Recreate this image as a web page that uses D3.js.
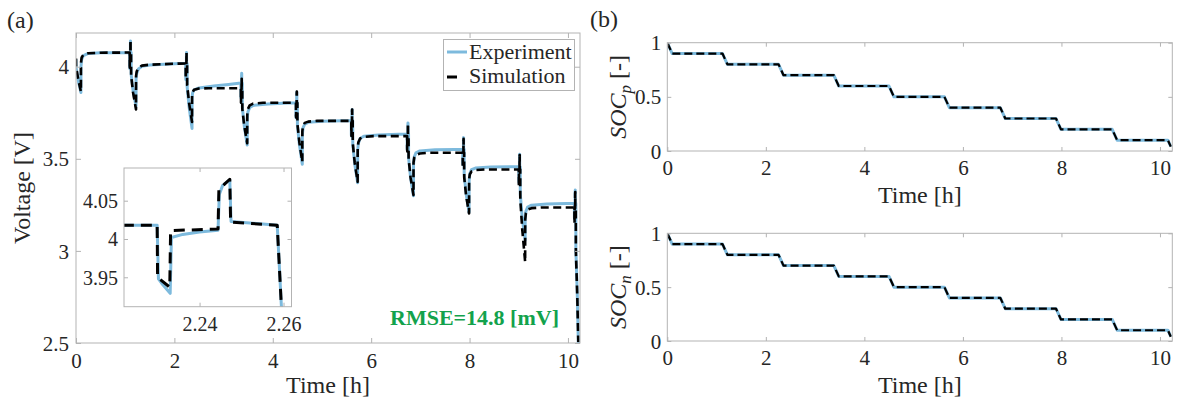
<!DOCTYPE html>
<html><head><meta charset="utf-8">
<script src="https://cdn.jsdelivr.net/npm/d3@7"></script>
<style>
body{margin:0;background:#fff}
svg{display:block}
text{font-family:"Liberation Serif","Times New Roman",serif;fill:#262626}
</style>
</head><body>
<svg id="c" width="1179" height="404"></svg>
<script>
// ---------------- DATA ----------------
// Simulation voltage [time h, voltage V]
const simVoltage = [
 [0.000,4.045],[0.002,4.000],[0.050,3.925],[0.100,3.865],[0.101,4.020],[0.115,4.050],[0.150,4.065],[0.250,4.073],[0.500,4.076],
 [1.0913,4.077],[1.0914,4.005],[1.0945,3.995],[1.0947,4.070],[1.1058,4.072],[1.1060,4.135],[1.1088,4.145],[1.1090,4.080],[1.1199,4.077],[1.1210,3.950],[1.160,3.860],[1.220,3.768],[1.221,3.950],[1.235,3.975],[1.270,3.995],[1.340,4.006],[1.500,4.011],[1.800,4.014],[2.100,4.017],
 [2.2299,4.018],[2.2300,3.950],[2.2329,3.937],[2.2331,4.011],[2.2444,4.013],[2.2446,4.064],[2.2460,4.072],[2.2472,4.078],[2.2474,4.022],[2.2585,4.018],[2.2596,3.900],[2.300,3.800],[2.3586,3.700],[2.3596,3.845],[2.370,3.862],[2.400,3.875],[2.480,3.881],[2.700,3.883],
 [3.3513,3.883],[3.3514,3.815],[3.3545,3.805],[3.3547,3.876],[3.3658,3.878],[3.3660,3.925],[3.3688,3.935],[3.3690,3.886],[3.3799,3.883],[3.3810,3.770],[3.420,3.680],[3.480,3.584],[3.481,3.740],[3.495,3.770],[3.530,3.790],[3.600,3.800],[3.800,3.804],
 [4.4713,3.804],[4.4714,3.735],[4.4745,3.725],[4.4747,3.797],[4.4858,3.799],[4.4860,3.855],[4.4888,3.865],[4.4890,3.807],[4.4999,3.804],[4.5010,3.690],[4.540,3.590],[4.600,3.484],[4.601,3.650],[4.615,3.680],[4.650,3.695],[4.720,3.702],[4.900,3.706],
 [5.5963,3.706],[5.5964,3.635],[5.5995,3.625],[5.5997,3.699],[5.6108,3.701],[5.6110,3.758],[5.6138,3.768],[5.6140,3.709],[5.6249,3.706],[5.6260,3.585],[5.665,3.480],[5.725,3.375],[5.726,3.560],[5.740,3.590],[5.775,3.610],[5.850,3.619],[6.050,3.623],
 [6.7313,3.623],[6.7314,3.550],[6.7345,3.540],[6.7347,3.616],[6.7458,3.618],[6.7460,3.682],[6.7488,3.692],[6.7490,3.626],[6.7599,3.623],[6.7610,3.500],[6.800,3.400],[6.860,3.303],[6.861,3.480],[6.875,3.505],[6.910,3.521],[6.990,3.529],[7.200,3.533],
 [7.8613,3.533],[7.8614,3.460],[7.8645,3.450],[7.8647,3.526],[7.8758,3.528],[7.8760,3.598],[7.8788,3.608],[7.8790,3.536],[7.8899,3.533],[7.8910,3.400],[7.930,3.300],[7.990,3.203],[7.991,3.390],[8.005,3.415],[8.040,3.431],[8.120,3.439],[8.330,3.442],
 [9.0013,3.442],[9.0014,3.365],[9.0045,3.355],[9.0047,3.435],[9.0158,3.437],[9.0160,3.510],[9.0188,3.520],[9.0190,3.445],[9.0299,3.442],[9.0310,3.280],[9.070,3.120],[9.130,2.940],[9.131,3.170],[9.145,3.205],[9.180,3.224],[9.260,3.232],[9.470,3.236],
 [10.1313,3.236],[10.1314,3.160],[10.1345,3.150],[10.1347,3.229],[10.1458,3.231],[10.1460,3.310],[10.1488,3.320],[10.1490,3.239],[10.1599,3.236],[10.1610,3.000],[10.190,2.750],[10.210,2.505]
];
// Experiment voltage [time h, voltage V]
const expVoltage = [
 [0.000,4.040],[0.002,3.995],[0.050,3.920],[0.100,3.860],[0.101,4.000],[0.115,4.040],[0.150,4.060],[0.250,4.072],[0.500,4.076],
 [1.0913,4.077],[1.0916,4.002],[1.0930,3.995],[1.0945,3.990],[1.0949,4.066],[1.1058,4.071],[1.1061,4.125],[1.1070,4.135],[1.1088,4.140],[1.1091,4.082],[1.1199,4.077],[1.1210,3.960],[1.160,3.870],[1.220,3.785],[1.221,3.935],[1.235,3.965],[1.270,3.988],[1.340,4.002],[1.500,4.009],[1.800,4.013],[2.100,4.017],
 [2.2299,4.018],[2.2302,3.948],[2.2310,3.942],[2.2330,3.929],[2.2333,4.002],[2.2360,4.006],[2.2400,4.009],[2.2444,4.0115],[2.2447,4.058],[2.2455,4.070],[2.2472,4.077],[2.2475,4.023],[2.2585,4.018],[2.2597,3.890],[2.300,3.780],[2.3586,3.665],[2.3597,3.830],[2.370,3.858],[2.400,3.874],[2.500,3.885],[2.800,3.895],[3.100,3.904],[3.350,3.911],
 [3.3513,3.912],[3.3516,3.842],[3.3545,3.830],[3.3549,3.902],[3.3658,3.906],[3.3661,3.950],[3.3688,3.965],[3.3691,3.915],[3.3799,3.912],[3.3810,3.780],[3.420,3.680],[3.480,3.575],[3.481,3.720],[3.495,3.755],[3.530,3.778],[3.600,3.790],[3.900,3.798],[4.300,3.803],
 [4.4713,3.803],[4.4716,3.732],[4.4745,3.722],[4.4749,3.794],[4.4858,3.797],[4.4861,3.850],[4.4888,3.862],[4.4891,3.806],[4.4999,3.803],[4.5010,3.680],[4.540,3.580],[4.600,3.470],[4.601,3.630],[4.615,3.668],[4.650,3.688],[4.720,3.698],[5.000,3.704],[5.400,3.706],
 [5.5963,3.706],[5.5966,3.633],[5.5995,3.623],[5.5999,3.697],[5.6108,3.700],[5.6111,3.755],[5.6138,3.768],[5.6141,3.709],[5.6249,3.706],[5.6260,3.580],[5.665,3.475],[5.725,3.370],[5.726,3.545],[5.740,3.585],[5.775,3.610],[5.850,3.622],[6.150,3.629],[6.550,3.633],
 [6.7313,3.633],[6.7316,3.560],[6.7345,3.550],[6.7349,3.624],[6.7458,3.627],[6.7461,3.683],[6.7488,3.695],[6.7491,3.636],[6.7599,3.633],[6.7610,3.505],[6.800,3.400],[6.860,3.300],[6.861,3.470],[6.875,3.510],[6.910,3.532],[6.990,3.543],[7.300,3.549],[7.700,3.551],
 [7.8613,3.551],[7.8616,3.478],[7.8645,3.468],[7.8649,3.542],[7.8758,3.545],[7.8761,3.603],[7.8788,3.615],[7.8791,3.554],[7.8899,3.551],[7.8910,3.420],[7.930,3.310],[7.990,3.210],[7.991,3.380],[8.005,3.420],[8.040,3.441],[8.120,3.450],[8.430,3.455],[8.830,3.457],
 [9.0013,3.457],[9.0016,3.382],[9.0045,3.372],[9.0049,3.448],[9.0158,3.451],[9.0161,3.512],[9.0188,3.525],[9.0191,3.460],[9.0299,3.457],[9.0310,3.310],[9.070,3.180],[9.130,3.058],[9.131,3.170],[9.145,3.215],[9.180,3.238],[9.260,3.248],[9.570,3.254],[9.970,3.258],
 [10.1313,3.258],[10.1316,3.182],[10.1345,3.172],[10.1349,3.250],[10.1458,3.253],[10.1461,3.318],[10.1488,3.330],[10.1491,3.261],[10.1599,3.258],[10.1610,3.010],[10.190,2.760],[10.215,2.450]
];
// State of charge (positive / negative electrode)
const socTime = [0,0.1,1.12,1.22,2.2586,2.3586,3.38,3.48,4.50,4.60,5.625,5.725,6.76,6.86,7.89,7.99,9.03,9.13,10.16,10.22];
const socP    = [1,0.9,0.9,0.8,0.8,0.7,0.7,0.6,0.6,0.5,0.5,0.4,0.4,0.3,0.3,0.2,0.2,0.1,0.1,0.04];
const socN    = [1,0.9,0.9,0.8,0.8,0.7,0.7,0.6,0.6,0.5,0.5,0.4,0.4,0.3,0.3,0.2,0.2,0.1,0.1,0.04];
// Ticks
const timeTicks = [0,2,4,6,8,10];
const voltTicks = [2.5,3,3.5,4];
const insetTimeTicks = [2.24,2.26];
const insetVoltTicks = [3.95,4,4.05];
const socTicks = [0,0.5,1];
const seriesNames = ["Experiment","Simulation"];
const rmseLabel = "RMSE=14.8 [mV]";

// ---------------- STYLE ----------------
const BLUE = "#7dbadd", BOX = "#b3b3b3", GREEN = "#12a24c";
const svg = d3.select("#c");

function frame(g, x, y, xt, yt, o){
  const [x0,x1] = x.range(), [y0,y1] = y.range(); // y0 bottom
  const ts = o.tick;
  const fs = o.fs;
  const bottom = g.append("g").attr("transform",`translate(0,${y0})`)
    .call(d3.axisBottom(x).tickValues(xt).tickSizeInner(-ts).tickSizeOuter(0).tickPadding(o.padX).tickFormat(o.labels ? d=>String(d) : ""));
  const top = g.append("g").attr("transform",`translate(0,${y1})`)
    .call(d3.axisTop(x).tickValues(xt).tickSizeInner(-ts).tickSizeOuter(0).tickFormat(""));
  const left = g.append("g").attr("transform",`translate(${x0},0)`)
    .call(d3.axisLeft(y).tickValues(yt).tickSizeInner(-ts).tickSizeOuter(0).tickPadding(o.padY).tickFormat(o.labels ? d=>String(d) : ""));
  const right = g.append("g").attr("transform",`translate(${x1},0)`)
    .call(d3.axisRight(y).tickValues(yt).tickSizeInner(-ts).tickSizeOuter(0).tickFormat(""));
  [bottom,top,left,right].forEach(a=>{
    a.select(".domain").remove();
    a.selectAll("line").attr("stroke",BOX);
    a.attr("font-family",null).attr("font-size",null);
    a.selectAll("text").attr("font-size",fs).attr("fill","#262626");
  });
  left.selectAll("text").attr("dy","0.34em");
  g.append("rect").attr("x",x0).attr("y",y1).attr("width",x1-x0).attr("height",y0-y1)
    .attr("fill","none").attr("stroke",BOX).attr("stroke-width",1);
}

function lines(g, x, y, id, data, opts){
  const [x0,x1] = x.range(), [y0,y1] = y.range();
  svg.append("defs").append("clipPath").attr("id",id).append("rect")
    .attr("x",x0).attr("y",y1).attr("width",x1-x0).attr("height",y0-y1);
  const gl = g.append("g").attr("clip-path",`url(#${id})`);
  const ln = d3.line().x(d=>x(d[0])).y(d=>y(d[1]));
  gl.append("path").attr("d",ln(data.exp)).attr("fill","none").attr("stroke",BLUE)
    .attr("stroke-width",opts.bw).attr("stroke-linejoin","round");
  gl.append("path").attr("d",ln(data.sim)).attr("fill","none").attr("stroke","#000")
    .attr("stroke-width",opts.dw).attr("stroke-dasharray",opts.dash).attr("stroke-linejoin","round");
}

// ---------------- PANEL (a) ----------------
const gA = svg.append("g");
const xA = d3.scaleLinear().domain([0,10.245]).range([76,580]);
const yA = d3.scaleLinear().domain([2.5,4.183]).range([343,33]);
lines(gA, xA, yA, "clipA", {exp:expVoltage, sim:simVoltage}, {bw:3, dw:2.6, dash:"8,4.5"});
frame(gA, xA, yA, timeTicks, voltTicks, {tick:5, fs:21, padX:10, padY:7, labels:true});

// inset
const gI = svg.append("g");
const xI = d3.scaleLinear().domain([2.222,2.2619]).range([124,291.5]);
const yI = d3.scaleLinear().domain([3.9116,4.0927]).range([306.7,168]);
gI.append("rect").attr("x",124).attr("y",168).attr("width",167.5).attr("height",138.7).attr("fill","#fff");
lines(gI, xI, yI, "clipI", {exp:expVoltage, sim:simVoltage}, {bw:3, dw:3, dash:"11,7"});
frame(gI, xI, yI, insetTimeTicks, insetVoltTicks, {tick:4, fs:20, padX:10, padY:6, labels:true});

// labels panel a
gA.append("text").attr("x",7).attr("y",28).attr("font-size",24).text("(a)");
gA.append("text").attr("transform","translate(30,188) rotate(-90)").attr("text-anchor","middle")
  .attr("font-size",24).text("Voltage [V]");
gA.append("text").attr("x",328).attr("y",393).attr("text-anchor","middle").attr("font-size",24).text("Time [h]");
gA.append("text").attr("x",390).attr("y",325).attr("font-size",22).attr("font-weight","bold")
  .style("fill",GREEN).text(rmseLabel);

// legend
const lg = gA.append("g");
lg.append("rect").attr("x",443.5).attr("y",39.5).attr("width",131).attr("height",51)
  .attr("fill","#fff").attr("stroke",BOX);
lg.append("line").attr("x1",447).attr("x2",467).attr("y1",52).attr("y2",52).attr("stroke",BLUE).attr("stroke-width",3);
lg.append("line").attr("x1",447).attr("x2",457).attr("y1",77).attr("y2",77).attr("stroke","#000").attr("stroke-width",3);
lg.append("text").attr("x",469).attr("y",59).attr("font-size",22).text(seriesNames[0]);
lg.append("text").attr("x",469).attr("y",83).attr("font-size",22).text(seriesNames[1]);

// ---------------- PANEL (b) ----------------
function socPanel(top, bottom, vals, sub, cid){
  const g = svg.append("g");
  const x = d3.scaleLinear().domain([0,10.25]).range([667.3,1172.3]);
  const y = d3.scaleLinear().domain([0,1]).range([bottom,top]);
  const pts = socTime.map((t,i)=>[t, vals[i]]);
  lines(g, x, y, cid, {exp:pts, sim:pts}, {bw:3, dw:2.2, dash:"8,4"});
  frame(g, x, y, timeTicks, socTicks, {tick:4, fs:21, padX:9, padY:6, labels:true});
  const lab = g.append("text").attr("transform",`translate(626,${(top+bottom)/2}) rotate(-90)`)
    .attr("text-anchor","middle").attr("font-size",24);
  lab.append("tspan").attr("font-style","italic").text("SOC");
  lab.append("tspan").attr("font-style","italic").attr("font-size",17).attr("dy",5).text(sub);
  lab.append("tspan").attr("dy",-5).text(" [-]");
  g.append("text").attr("x",919.8).attr("y",bottom+52).attr("text-anchor","middle").attr("font-size",24).text("Time [h]");
}
socPanel(42.7, 151, socP, "p", "clipP");
socPanel(233.3, 341, socN, "n", "clipN");
svg.append("text").attr("x",590).attr("y",27).attr("font-size",24).text("(b)");
</script>
</body></html>
